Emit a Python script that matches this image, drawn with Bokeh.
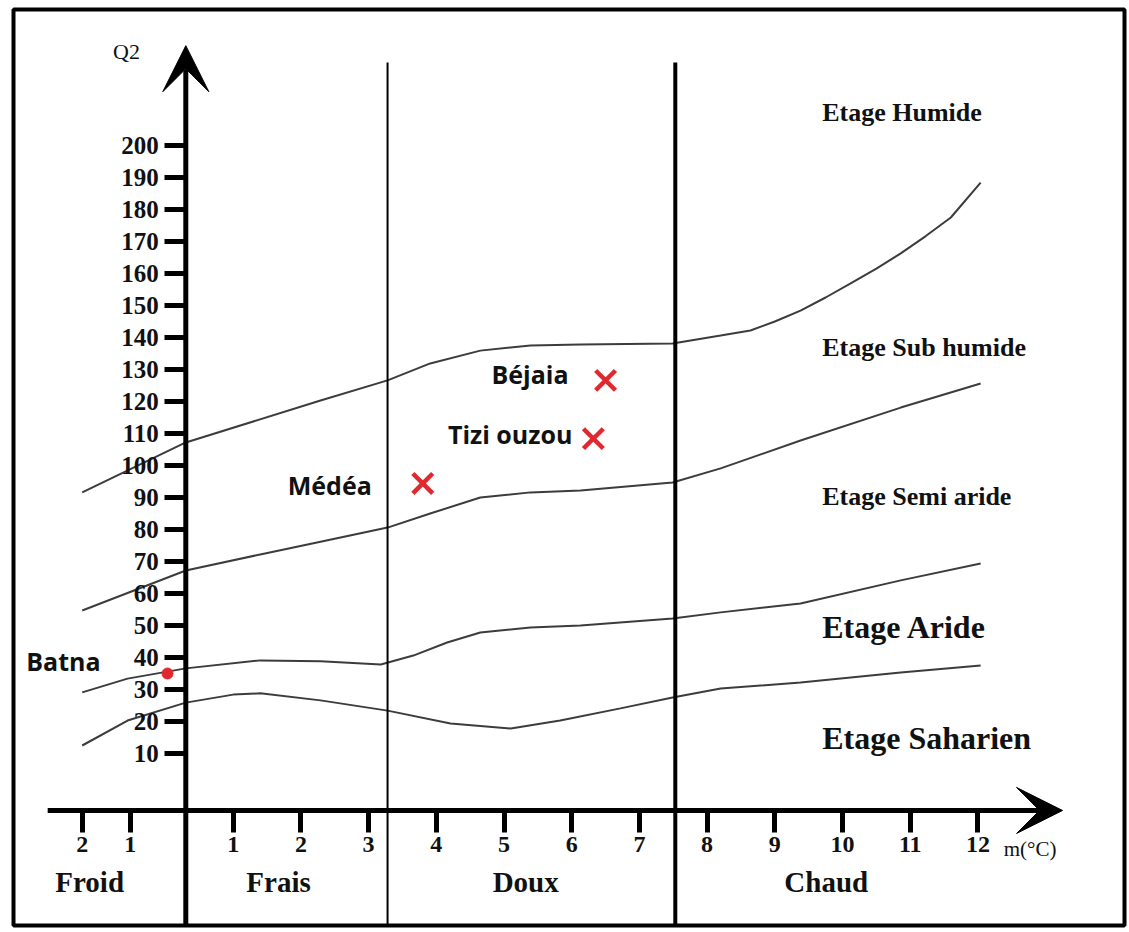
from bokeh.plotting import figure
from bokeh.models import Range1d, LinearAxis, FixedTicker, Arrow, VeeHead, ColumnDataSource
from bokeh.core.properties import value
from bokeh.embed import file_html
from bokeh.resources import INLINE

# ---------------- data ----------------
# x axis: m (°C), y axis: Q2 (Emberger)
m_ticks = [1, 2, 3, 4, 5, 6, 7, 8, 9, 10, 11, 12]
froid_ticks = [-1.23, -0.52]           # the "2" and "1" ticks of the cold side
froid_tick_labels = ["2", "1"]
q2_ticks = [10, 20, 30, 40, 50, 60, 70, 80, 90, 100,
            110, 120, 130, 140, 150, 160, 170, 180, 190, 200]

# boundary curves between bioclimatic stages (m, Q2)
humide_m = [-1.23, 0.30, 2.29, 3.28, 3.91, 4.65, 5.39, 6.13, 7.49, 8.20, 8.64, 9.00, 9.38, 9.75, 10.12, 10.50,
            10.86, 11.23, 11.60, 12.04]
humide_q = [91.6, 107.2, 120.3, 126.6, 131.9, 135.9, 137.5, 137.8, 138.1, 140.6, 142.2, 145.0, 148.4, 152.5, 156.9,
            161.5, 166.3, 171.7, 177.5, 188.4]

subhum_m = [-1.23, 0.30, 1.40, 2.29, 3.28, 3.91, 4.65, 5.39, 6.13, 7.49, 8.20, 9.38, 10.86, 12.04]
subhum_q = [54.7, 67.2, 72.2, 76.2, 80.6, 85.0, 90.0, 91.6, 92.2, 94.7, 99.1, 107.8, 118.1, 125.6]

semiar_m = [-1.23, -0.56, 0.30, 1.40, 2.29, 3.18, 3.66, 4.16, 4.65, 5.39, 6.13, 7.49, 8.20, 9.38, 10.86, 12.04]
semiar_q = [29.1, 33.4, 36.6, 39.1, 38.8, 37.8, 40.6, 44.7, 47.8, 49.4, 50.0, 52.2, 54.1, 56.9, 64.1, 69.4]

aride_m = [-1.23, -0.56, 0.30, 1.00, 1.40, 2.29, 3.28, 4.21, 5.10, 5.83, 6.72, 7.49, 8.20, 9.38, 10.86, 12.04]
aride_q = [12.5, 20.3, 25.9, 28.4, 28.8, 26.6, 23.4, 19.4, 17.8, 20.3, 24.1, 27.5, 30.3, 32.2, 35.3, 37.5]

# thermal variant limits (vertical lines)
limit_m = [3.28, 7.53]

# stations
cities = ["Béjaia", "Tizi ouzou", "Médéa"]
cities_m = [6.50, 6.32, 3.80]
cities_q = [126.6, 108.4, 94.4]
batna_name = ["Batna"]
batna_m = [0.03]
batna_q = [35.0]

stages = ["Etage Humide", "Etage Sub humide", "Etage Semi aride", "Etage Aride", "Etage Saharien"]
variants = ["Froid", "Frais", "Doux", "Chaud"]

# ---------------- layout / style ----------------
Y_AXIS_M = 0.3
X_AXIS_Q = -7.8
Q_BOTTOM = -43.75
Q_TOP = 242.5

p = figure(width=1127, height=930,
           x_range=Range1d(-2.245, 14.165), y_range=Range1d(Q_BOTTOM, Q_TOP),
           x_axis_type=None, y_axis_type=None,
           toolbar_location=None, output_backend="svg",
           min_border_left=13, min_border_right=3, min_border_top=9, min_border_bottom=5)
p.outline_line_color = "black"
p.outline_line_width = 4
p.background_fill_color = "white"
p.border_fill_color = "white"

# boundary curves
curve_color = "#3c3c3c"
for xs, ys in [(humide_m, humide_q), (subhum_m, subhum_q),
               (semiar_m, semiar_q), (aride_m, aride_q)]:
    p.line(xs, ys, line_color=curve_color, line_width=2)

# vertical limits
p.segment(x0=limit_m, y0=[Q_BOTTOM] * 2, x1=limit_m, y1=[225.9] * 2,
          line_color="black", line_width=[2, 4])

# axes arrows
p.add_layout(Arrow(end=VeeHead(size=46, fill_color="black", line_color="black", line_width=1),
                   x_start=Y_AXIS_M, y_start=Q_BOTTOM, x_end=Y_AXIS_M, y_end=231.2,
                   line_color="black", line_width=5))
p.add_layout(Arrow(end=VeeHead(size=46, fill_color="black", line_color="black", line_width=1),
                   x_start=-1.74, y_start=X_AXIS_Q, x_end=13.25, y_end=X_AXIS_Q,
                   line_color="black", line_width=5))

# y axis ticks/labels
yax = LinearAxis(ticker=FixedTicker(ticks=q2_ticks), fixed_location=Y_AXIS_M)
yax.axis_line_color = None
yax.major_tick_line_width = 5
yax.major_tick_line_color = "black"
yax.major_tick_out = 21
yax.major_tick_in = 0
yax.minor_tick_line_color = None
yax.major_label_standoff = 6
yax.major_label_text_font = "Liberation Serif"
yax.major_label_text_font_style = "bold"
yax.major_label_text_font_size = "25px"
yax.major_label_text_color = "#111111"
p.add_layout(yax, "left")

# x axis ticks/labels
xax = LinearAxis(ticker=FixedTicker(ticks=froid_ticks + m_ticks), fixed_location=X_AXIS_Q,
                 major_label_overrides={t: s for t, s in zip(froid_ticks, froid_tick_labels)})
xax.axis_line_color = None
xax.major_tick_line_width = 5
xax.major_tick_line_color = "black"
xax.major_tick_out = 22
xax.major_tick_in = 0
xax.minor_tick_line_color = None
xax.major_label_standoff = 5
xax.major_label_text_font = "Liberation Serif"
xax.major_label_text_font_style = "bold"
xax.major_label_text_font_size = "24px"
xax.major_label_text_color = "#111111"
p.add_layout(xax, "below")

serif = value("Liberation Serif")
sans = value("Open Sans")
red = "#e0282e"

# axis titles
p.text(x=[-0.576], y=[229.4], text=["Q2"], text_font=serif, text_font_size="22px",
       text_align="center", text_baseline="middle", text_color="#111111")
p.text(x=[12.38], y=[-19.7], text=["m(°C)"], text_font=serif, text_font_size="21px",
       text_align="left", text_baseline="middle", text_color="#111111")

# stage names
stage_src = ColumnDataSource(dict(x=[9.70] * 5, y=[210.3, 136.9, 90.3, 49.4, 15.0], text=stages,
                                  size=["26px", "26px", "26px", "32px", "32px"]))
p.text(x="x", y="y", text="text", source=stage_src, text_font=serif, text_font_style="bold",
       text_font_size="size", text_align="left", text_baseline="middle", text_color="#111111")

# thermal variants
var_src = ColumnDataSource(dict(x=[-1.12, 1.67, 5.32, 9.76], y=[-30.3] * 4, text=variants))
p.text(x="x", y="y", text="text", source=var_src, text_font=serif, text_font_style="bold",
       text_font_size="29px", text_align="center", text_baseline="middle", text_color="#111111")

# stations
p.scatter(cities_m, cities_q, marker="x", size=28, line_color=red, line_width=4.5)
p.scatter(batna_m, batna_q, marker="circle", size=11, fill_color=red, line_color=red)

city_src = ColumnDataSource(dict(x=cities_m, y=cities_q, text=cities,
                                 dx=[-37, -21, -51], dy=[-6, -5, 2]))
p.text(x="x", y="y", text="text", source=city_src, x_offset="dx", y_offset="dy",
       text_font=sans, text_font_style="bold", text_font_size="25px",
       text_align="right", text_baseline="middle", text_color="#111111")
p.text(x=batna_m, y=batna_q, text=batna_name, x_offset=-67, y_offset=-13,
       text_font=sans, text_font_style="bold", text_font_size="25px",
       text_align="right", text_baseline="middle", text_color="#111111")

open("out.html", "w").write(file_html(p, INLINE, title="Climagramme d'Emberger"))
